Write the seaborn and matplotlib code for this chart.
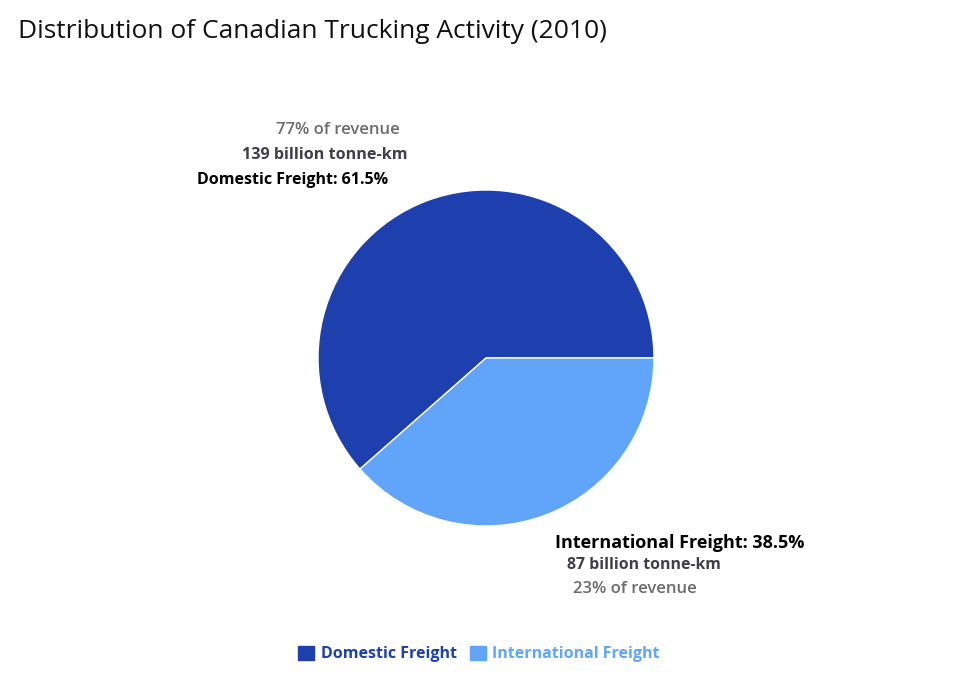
import matplotlib
matplotlib.use("Agg")
import matplotlib.pyplot as plt
import seaborn as sns
from matplotlib.patches import Patch

# data
segments = ["Domestic Freight", "International Freight"]
shares = [61.5, 38.5]
tonne_km = ["139 billion tonne-km", "87 billion tonne-km"]
revenue = ["77% of revenue", "23% of revenue"]
colors = ["#1E40AF", "#60A5FA"]

sns.set_theme(style="white")
plt.rcParams['font.family'] = ['Open Sans', 'DejaVu Sans']

W, H = 979, 687
fig = plt.figure(figsize=(W / 100, H / 100), dpi=100)
fig.patch.set_facecolor("white")

def fx(px):
    return px / W

def fy(py):
    return 1 - py / H

# pie axes: centre (486, 358), radius 168 px
cx, cy, r = 486, 358, 168
ax = fig.add_axes([fx(cx - r), fy(cy + r), 2 * r / W, 2 * r / H])
ax.pie(shares, colors=colors, startangle=0, counterclock=True, radius=1,
       wedgeprops=dict(edgecolor="white", linewidth=1))
ax.set_xlim(-1, 1)
ax.set_ylim(-1, 1)
ax.set_aspect("auto")
ax.axis("off")

fig.text(fx(18), fy(31), "Distribution of Canadian Trucking Activity (2010)",
         fontsize=19, color="#111111", va="center", ha="left")

# domestic label (upper left)
fig.text(fx(388), fy(180), f"{segments[0]}: {shares[0]}%", fontsize=11.5,
         fontweight="bold", color="#000000", ha="right", va="center")
fig.text(fx(408), fy(155), tonne_km[0], fontsize=11.6, fontweight="bold",
         color="#3F3F46", ha="right", va="center")
fig.text(fx(400), fy(130), revenue[0], fontsize=12, fontweight="semibold",
         color="#6B6B6B", ha="right", va="center")

# international label (lower right)
fig.text(fx(555), fy(543), f"{segments[1]}: {shares[1]}%", fontsize=13,
         fontweight="bold", color="#000000", ha="left", va="center")
fig.text(fx(567), fy(565), tonne_km[1], fontsize=11.4, fontweight="bold",
         color="#3F3F46", ha="left", va="center")
fig.text(fx(573), fy(589), revenue[1], fontsize=12, fontweight="semibold",
         color="#6B6B6B", ha="left", va="center")

# legend
handles = [Patch(facecolor=c, edgecolor=c) for c in colors]
leg = fig.legend(handles, segments, loc="center", bbox_to_anchor=(fx(479), fy(654)),
                 ncol=2, frameon=False, handlelength=1.0, handleheight=1.0,
                 handletextpad=0.4, columnspacing=0.8,
                 prop=dict(size=11.5, weight="bold"))
for t, c in zip(leg.get_texts(), colors):
    t.set_color(c)

fig.savefig("out.png", dpi=100, facecolor="white")
